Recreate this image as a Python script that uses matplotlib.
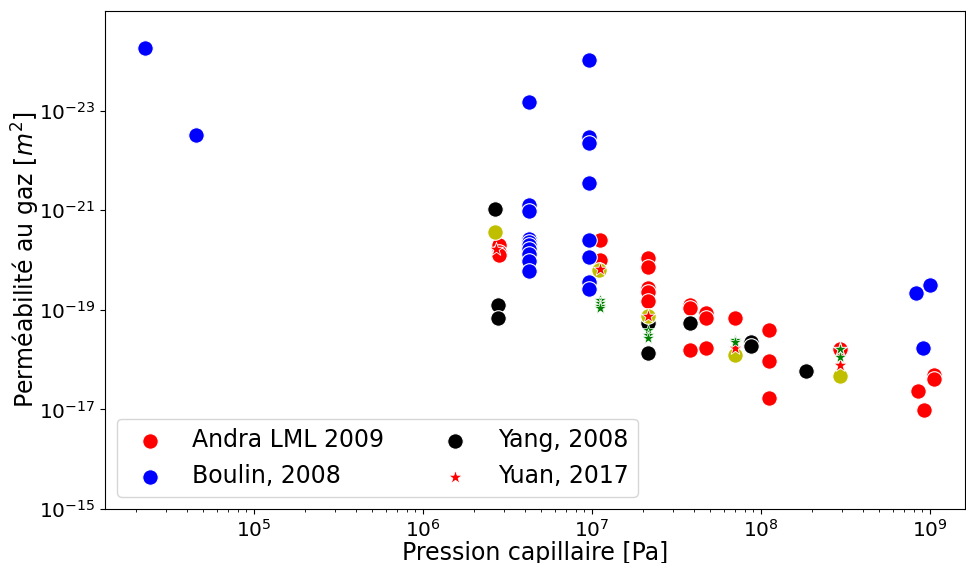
import matplotlib
matplotlib.use("Agg")
import matplotlib.pyplot as plt
from matplotlib.ticker import NullLocator, FixedLocator

# ---- data (capillary pressure [Pa], gas permeability [m^2]) ----
andra_x = [2.8e6, 2.8e6, 2.8e6, 1.12e7, 1.12e7,
           2.15e7, 2.15e7, 2.15e7, 2.15e7, 2.15e7,
           3.8e7, 3.8e7, 3.8e7, 4.73e7, 4.73e7, 4.73e7,
           7.0e7, 1.12e8, 1.12e8, 1.12e8, 2.93e8,
           8.5e8, 9.25e8, 1.06e9, 1.06e9]
andra_y = [5.0e-21, 6.8e-21, 7.9e-21, 4.0e-21, 1.02e-20,
           9.3e-21, 1.35e-20, 3.7e-20, 4.3e-20, 6.8e-20,
           7.9e-20, 9.3e-20, 6.3e-19, 1.17e-19, 1.48e-19, 5.9e-19,
           1.48e-19, 2.6e-19, 1.07e-18, 5.9e-18, 6.2e-19,
           4.3e-18, 1.02e-17, 2.0e-18, 2.45e-18]

boulin_x = [2.25e4, 4.54e4,
            4.24e6, 4.24e6, 4.24e6, 4.24e6, 4.24e6, 4.24e6, 4.24e6, 4.24e6, 4.24e6, 4.24e6,
            9.64e6, 9.64e6, 9.64e6, 9.64e6, 9.64e6, 9.64e6, 9.64e6, 9.64e6,
            8.3e8, 1.0e9, 9.1e8]
boulin_y = [5.4e-25, 3.1e-23,
            6.8e-24, 7.9e-22, 1.02e-21, 3.7e-21, 4.3e-21, 5.0e-21, 5.9e-21, 7.4e-21, 1.07e-20, 1.7e-20,
            9.8e-25, 3.4e-23, 4.5e-23, 2.8e-22, 3.9e-21, 8.5e-21, 2.7e-20, 3.9e-20,
            4.5e-20, 3.2e-20, 5.9e-19]

yang_x = [2.67e6, 2.76e6, 2.76e6, 2.15e7, 2.15e7, 3.8e7, 8.7e7, 8.7e7, 1.85e8]
yang_y = [9.3e-22, 7.9e-20, 1.45e-19, 1.8e-19, 7.4e-19, 1.86e-19, 4.5e-19, 5.4e-19, 1.66e-18]

yuan_x = [2.7e6, 1.12e7, 2.15e7, 7.0e7, 2.93e8, 2.93e8]
yuan_y = [6.0e-21, 1.48e-20, 1.32e-19, 5.75e-19, 6.2e-19, 1.26e-18]

yellow_x = [2.67e6, 1.1e7, 2.15e7, 7.0e7, 2.93e8]
yellow_y = [2.8e-21, 1.58e-20, 1.35e-19, 7.9e-19, 2.1e-18]

green_x = [1.11e7, 1.11e7, 1.11e7, 1.11e7, 2.15e7, 2.15e7, 2.15e7, 7.0e7, 7.0e7, 2.93e8, 2.93e8]
green_y = [6.3e-20, 7.4e-20, 8.3e-20, 9.3e-20, 2.5e-19, 3.2e-19, 3.6e-19, 4.0e-19, 4.5e-19, 6.2e-19, 8.9e-19]

y_ticks = [1e-23, 1e-21, 1e-19, 1e-17, 1e-15]

fig = plt.figure(figsize=(9.66, 5.63), dpi=100)
ax = fig.add_axes([0.1087, 0.0959, 0.8903, 0.8845])

circ = dict(s=125, edgecolors="white", linewidths=0.8)
h1 = ax.scatter(andra_x, andra_y, c="r", marker="o", label="Andra LML 2009", **circ)
h2 = ax.scatter(boulin_x, boulin_y, c="b", marker="o", label="Boulin, 2008", **circ)
h3 = ax.scatter(yang_x, yang_y, c="k", marker="o", label="Yang, 2008", **circ)
ax.scatter(yellow_x, yellow_y, c="y", marker="o", **circ)
h4 = ax.scatter(yuan_x, yuan_y, c="r", marker="*", s=110, edgecolors="white",
                linewidths=0.6, label="Yuan, 2017")
ax.scatter(green_x, green_y, c="g", marker="*", s=85, edgecolors="white", linewidths=0.5)

ax.set_xscale("log")
ax.set_yscale("log")
ax.set_xlim(10 ** 4.118, 10 ** 9.207)
ax.set_ylim(1e-15, 1e-25)
ax.yaxis.set_major_locator(FixedLocator(y_ticks))
ax.yaxis.set_minor_locator(NullLocator())
ax.tick_params(labelsize=14.5)

ax.set_xlabel("Pression capillaire [Pa]", fontsize=17, labelpad=0)
ax.set_ylabel("Perméabilité au gaz [$m^2$]", fontsize=17, labelpad=-2.5)

ax.legend(handles=[h1, h2, h3, h4], loc="lower left", ncol=2, fontsize=17)

fig.savefig("out.png", dpi=100)
